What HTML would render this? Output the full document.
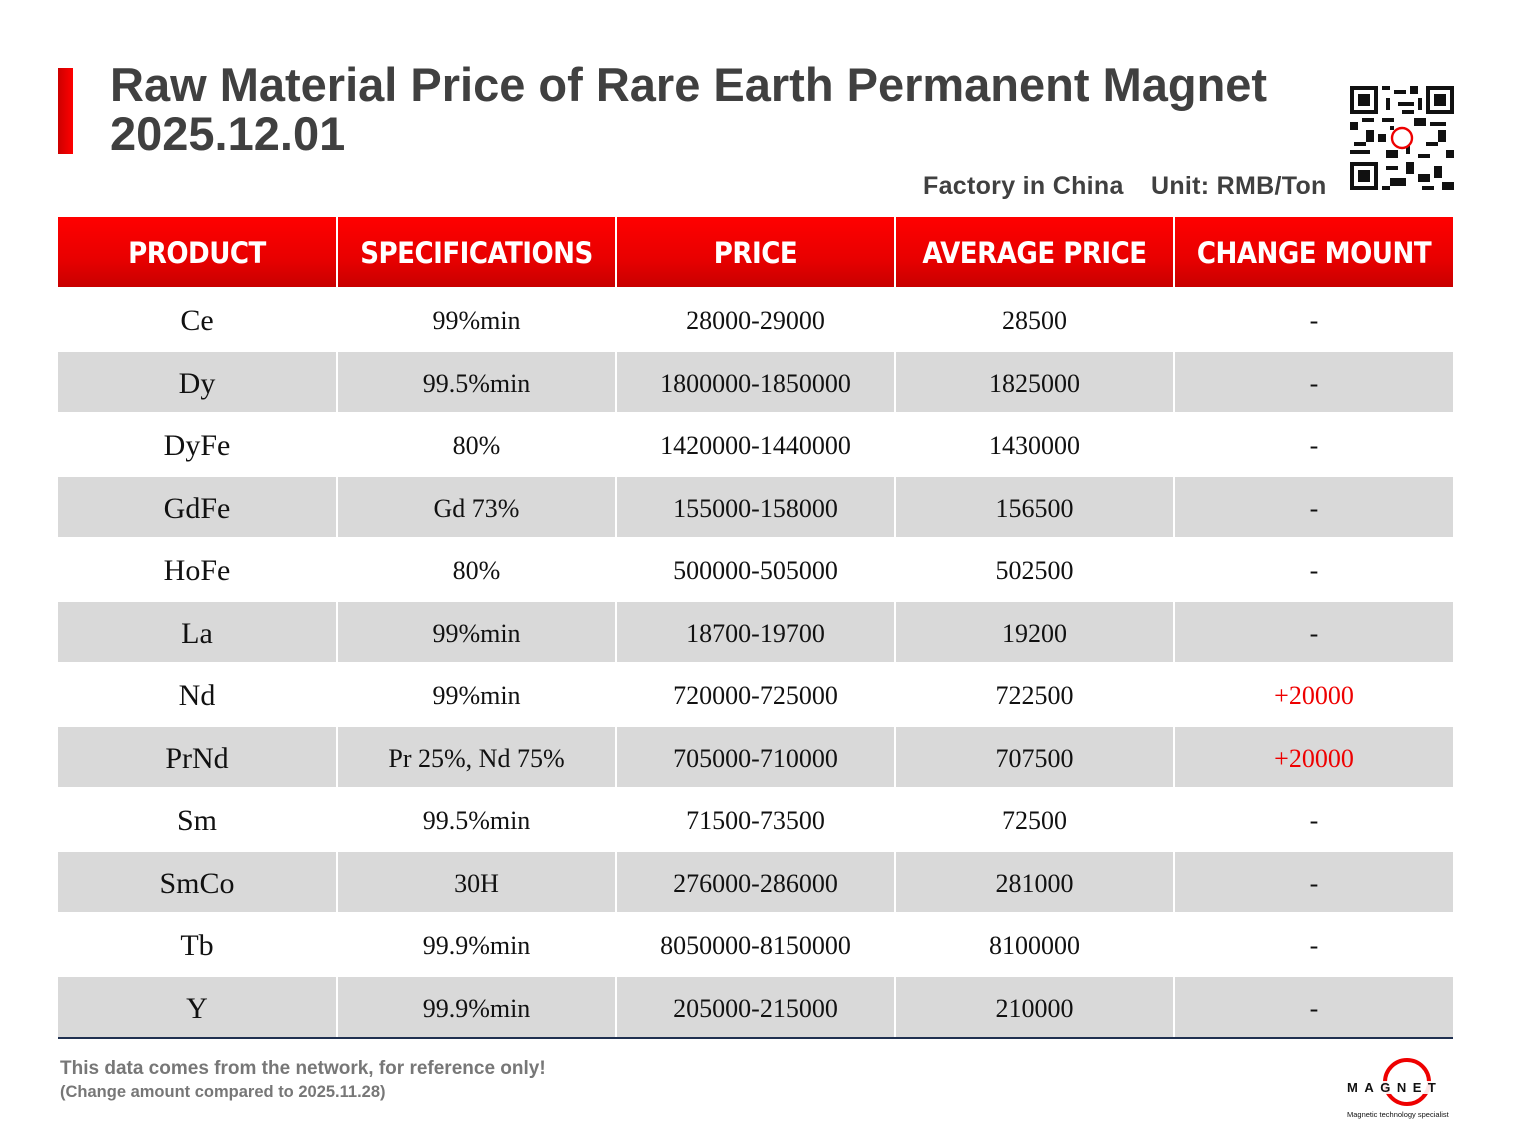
<!DOCTYPE html>
<html><head><meta charset="utf-8"><style>
body{margin:0;width:1520px;height:1138px;background:#fff;position:relative;overflow:hidden;font-family:"Liberation Sans",sans-serif}
.bar{position:absolute;left:58px;top:68px;width:15px;height:86px;background:linear-gradient(90deg,#c00,#f00)}
.title{position:absolute;left:110px;top:60px;font-size:47px;font-weight:bold;color:#404040;line-height:49px}
.sub{position:absolute;top:172px;font-size:25px;font-weight:bold;color:#404040;letter-spacing:0.3px}
table{position:absolute;left:58px;top:217px;width:1395px;border-collapse:collapse;table-layout:fixed}
th{height:68px;background:linear-gradient(#f00 0%,#e80000 60%,#c80000 100%);color:#fff;font-size:29px;font-weight:bold;font-family:"DejaVu Sans Condensed","Liberation Sans Narrow","Liberation Sans",sans-serif;border-left:2px solid #fff;padding:2px 0 0 0;letter-spacing:-0.5px}
th:first-child,td:first-child{border-left:none}
td{height:57px;text-align:center;font-family:"Liberation Serif",serif;font-size:26px;color:#111;border-left:2px solid #fff;padding:3px 0 0 0}
td:first-child{font-size:30px}
tr.g td{background:#d9d9d9}
tr.w td{height:62px}
tr.l td{border-bottom:2px solid #1f3050}
.red{color:#e00}
.foot{position:absolute;left:60px;color:#777;font-weight:bold}
</style></head><body>
<div class="bar"></div>
<div class="title">Raw Material Price of Rare Earth Permanent Magnet<br>2025.12.01</div>
<div class="sub" style="left:923px">Factory in China</div>
<div class="sub" style="left:1151px">Unit: RMB/Ton</div>
<svg style="position:absolute;left:1350px;top:86px" width="104" height="104" viewBox="0 0 26 26">
<rect width="26" height="26" fill="#fff"/>
<g fill="#111">
<path d="M0 0h7v7h-7zM1 1v5h5v-5zM2 2h3v3h-3z M19 0h7v7h-7zM20 1v5h5v-5zM21 2h3v3h-3z M0 19h7v7h-7zM1 20v5h5v-5zM2 21h3v3h-3z" fill-rule="evenodd"/>
<rect x="8" y="0" width="2" height="1"/><rect x="11" y="1" width="3" height="1"/><rect x="15" y="0" width="2" height="2"/><rect x="9" y="3" width="1" height="3"/><rect x="12" y="4" width="4" height="1"/><rect x="8" y="8" width="3" height="1"/><rect x="0" y="9" width="2" height="2"/><rect x="3" y="8" width="3" height="1"/><rect x="4" y="11" width="2" height="3"/><rect x="1" y="14" width="3" height="1"/><rect x="0" y="16" width="5" height="1"/><rect x="7" y="12" width="2" height="2"/><rect x="9" y="16" width="3" height="2"/><rect x="16" y="8" width="3" height="2"/><rect x="20" y="9" width="4" height="1"/><rect x="22" y="11" width="2" height="3"/><rect x="19" y="14" width="3" height="1"/><rect x="24" y="16" width="2" height="2"/><rect x="17" y="17" width="3" height="1"/><rect x="14" y="19" width="2" height="3"/><rect x="9" y="20" width="3" height="1"/><rect x="10" y="23" width="4" height="2"/><rect x="17" y="22" width="3" height="2"/><rect x="21" y="20" width="2" height="3"/><rect x="23" y="24" width="3" height="2"/><rect x="8" y="25" width="2" height="1"/><rect x="18" y="25" width="3" height="1"/><rect x="14" y="15" width="1" height="2"/><rect x="10" y="10" width="1" height="1"/><rect x="17" y="3" width="1" height="3"/><rect x="13" y="6" width="3" height="1"/>
</g>
<circle cx="13" cy="13" r="2.5" fill="none" stroke="#e00" stroke-width="0.6"/>
</svg>
<table>
<tr><th>PRODUCT</th><th>SPECIFICATIONS</th><th>PRICE</th><th>AVERAGE PRICE</th><th>CHANGE MOUNT</th></tr>
<tr class="w"><td>Ce</td><td>99%min</td><td>28000-29000</td><td>28500</td><td>-</td></tr>
<tr class="g"><td>Dy</td><td>99.5%min</td><td>1800000-1850000</td><td>1825000</td><td>-</td></tr>
<tr class="w"><td>DyFe</td><td>80%</td><td>1420000-1440000</td><td>1430000</td><td>-</td></tr>
<tr class="g"><td>GdFe</td><td>Gd 73%</td><td>155000-158000</td><td>156500</td><td>-</td></tr>
<tr class="w"><td>HoFe</td><td>80%</td><td>500000-505000</td><td>502500</td><td>-</td></tr>
<tr class="g"><td>La</td><td>99%min</td><td>18700-19700</td><td>19200</td><td>-</td></tr>
<tr class="w"><td>Nd</td><td>99%min</td><td>720000-725000</td><td>722500</td><td class="red">+20000</td></tr>
<tr class="g"><td>PrNd</td><td>Pr 25%, Nd 75%</td><td>705000-710000</td><td>707500</td><td class="red">+20000</td></tr>
<tr class="w"><td>Sm</td><td>99.5%min</td><td>71500-73500</td><td>72500</td><td>-</td></tr>
<tr class="g"><td>SmCo</td><td>30H</td><td>276000-286000</td><td>281000</td><td>-</td></tr>
<tr class="w"><td>Tb</td><td>99.9%min</td><td>8050000-8150000</td><td>8100000</td><td>-</td></tr>
<tr class="g l"><td>Y</td><td>99.9%min</td><td>205000-215000</td><td>210000</td><td>-</td></tr>
</table>
<div class="foot" style="top:1058px;font-size:19px">This data comes from the network, for reference only!</div>
<div class="foot" style="top:1083px;font-size:16.5px">(Change amount compared to 2025.11.28)</div>
<svg style="position:absolute;left:1340px;top:1052px" width="120" height="70">
<circle cx="67" cy="30" r="22" fill="none" stroke="#e00" stroke-width="4"/>
<rect x="8" y="29" width="112" height="13" fill="#fff" opacity="0.9"/>
<text x="7" y="40" font-family="Liberation Sans" font-weight="bold" font-size="13" letter-spacing="6.5" fill="#111">MAGNET</text>
<text x="7" y="65" font-family="Liberation Sans" font-size="7.5" fill="#111">Magnetic technology specialist</text>
</svg>
</body></html>
